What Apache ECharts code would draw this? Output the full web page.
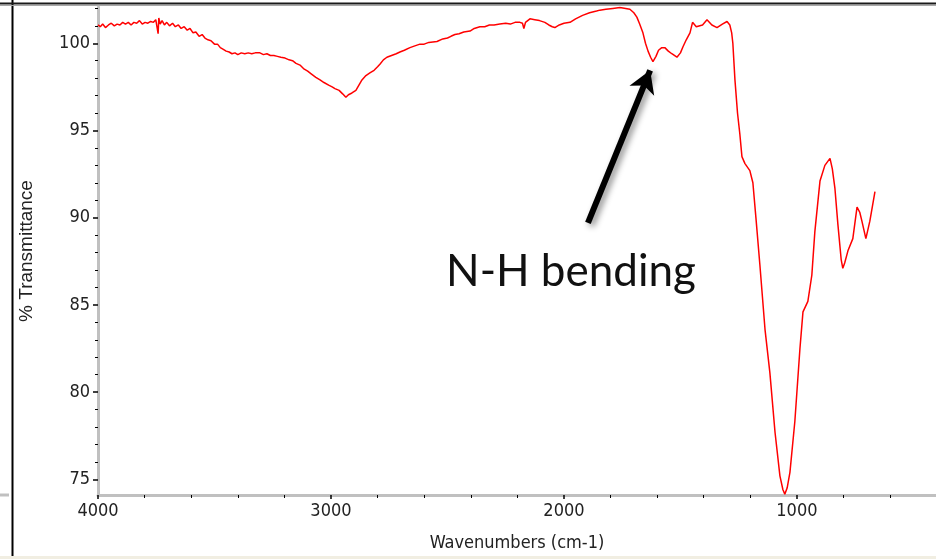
<!DOCTYPE html>
<html>
<head>
<meta charset="utf-8">
<script src="https://cdn.jsdelivr.net/npm/echarts@6/dist/echarts.min.js"></script>
<style>
  html, body { margin: 0; padding: 0; background: #fff; }
  #chart { width: 936px; height: 559px; }
</style>
</head>
<body>
<div id="chart"></div>
<script>
// IR spectrum
const wavenumbers = [
  4000, 3990, 3980, 3968, 3955, 3943, 3930, 3918, 3906, 3894, 3882, 3870, 3858, 3846, 3834, 3822,
  3810, 3798, 3786, 3774, 3762, 3752, 3745, 3742, 3739, 3733, 3725, 3715, 3705, 3693, 3680, 3668,
  3655, 3643, 3630, 3617, 3605, 3592, 3580, 3566, 3553, 3541, 3528, 3515, 3500, 3487, 3475, 3462,
  3450, 3437, 3425, 3412, 3400, 3385, 3370, 3355, 3340, 3325, 3305, 3290, 3275, 3260, 3245, 3230,
  3215, 3197, 3180, 3165, 3150, 3133, 3118, 3100, 3085, 3065, 3047, 3030, 3010, 2995, 2983, 2965,
  2950, 2936, 2925, 2910, 2893, 2880, 2867, 2850, 2833, 2815, 2800, 2790, 2775, 2760, 2740, 2720,
  2704, 2685, 2661, 2640, 2618, 2600, 2580, 2545, 2520, 2500, 2485, 2468, 2450, 2430, 2403, 2385,
  2361, 2340, 2320, 2300, 2275, 2250, 2230, 2210, 2189, 2178, 2172, 2165, 2146, 2125, 2105, 2082,
  2065, 2050, 2039, 2020, 2000, 1974, 1950, 1920, 1890, 1860, 1846, 1820, 1790, 1760, 1735, 1717,
  1700, 1687, 1675, 1661, 1650, 1639, 1628, 1618, 1605, 1594, 1580, 1567, 1552, 1537, 1515, 1500,
  1489, 1475, 1459, 1448, 1442, 1432, 1425, 1405, 1386, 1365, 1343, 1320, 1300, 1288, 1280, 1275,
  1266, 1255, 1245, 1236, 1223, 1202, 1189, 1176, 1159, 1137, 1116, 1094, 1073, 1060, 1052, 1042,
  1030, 1009, 987, 974, 953, 936, 923, 901, 880, 858, 848, 837, 824, 810, 803, 795,
  781, 760, 742, 730, 721, 704, 687, 665
];
const transmittance = [
  101.05, 100.95, 101.1, 100.9, 101.05, 101.15, 101.0, 101.1, 101.05, 101.2, 101.1, 101.2, 101.05, 101.2, 101.15, 101.3,
  101.1, 101.2, 101.15, 101.25, 101.2, 101.35, 101.3, 100.55, 101.45, 101.1, 101.3, 101.05, 101.2, 101.0, 101.15, 100.95,
  101.05, 100.85, 100.95, 100.75, 100.85, 100.6, 100.65, 100.4, 100.5, 100.3, 100.2, 100.15, 99.95, 99.95, 99.75, 99.65,
  99.55, 99.5, 99.4, 99.45, 99.35, 99.45, 99.4, 99.45, 99.4, 99.45, 99.45, 99.35, 99.4, 99.3, 99.3, 99.25,
  99.2, 99.15, 99.05, 99.0, 98.85, 98.75, 98.55, 98.4, 98.25, 98.05, 97.9, 97.75, 97.6, 97.5, 97.4, 97.3,
  97.1, 96.9, 97.05, 97.15, 97.3, 97.6, 97.9, 98.15, 98.3, 98.45, 98.65, 98.8, 99.05, 99.2, 99.3, 99.4,
  99.5, 99.6, 99.75, 99.85, 99.95, 99.95, 100.05, 100.1, 100.25, 100.3, 100.4, 100.5, 100.55, 100.65, 100.7, 100.85,
  100.95, 100.95, 101.05, 101.05, 101.1, 101.15, 101.1, 101.2, 101.2, 101.15, 100.85, 101.2, 101.4, 101.35, 101.3, 101.2,
  101.05, 100.95, 100.9, 101.05, 101.15, 101.2, 101.4, 101.6, 101.75, 101.85, 101.9, 101.95, 102.0, 102.05, 102.0, 101.95,
  101.75, 101.5, 101.1, 100.6, 100.0, 99.55, 99.2, 98.95, 99.25, 99.6, 99.75, 99.75, 99.55, 99.4, 99.2, 99.45,
  99.8, 100.2, 100.6, 101.2, 101.25, 100.95, 100.85, 101.05, 101.35, 101.05, 100.9, 101.1, 101.25, 101.05, 100.6, 100.0,
  97.9, 96.0, 94.8, 93.5, 93.1, 92.7, 92.0, 90.0, 87.3, 83.6, 81.1, 77.7, 75.2, 74.4, 74.15, 74.5,
  75.4, 78.3, 82.5, 84.6, 85.2, 86.7, 89.2, 92.1, 93.0, 93.4, 92.8, 91.7, 89.6, 87.6, 87.1, 87.4,
  88.1, 88.8, 90.6, 90.3, 89.8, 88.8, 89.8, 91.5
];

const xMajorTicks = [1000, 2000, 3000, 4000];
const xMinorTicks = [600, 800, 1200, 1400, 1600, 1800, 2200, 2400, 2600, 2800, 3200, 3400, 3600, 3800];
const yMajorTicks = [75, 80, 85, 90, 95, 100];
const yMinorTicks = [76, 77, 78, 79, 81, 82, 83, 84, 86, 87, 88, 89, 91, 92, 93, 94, 96, 97, 98, 99, 101, 102];

// annotation arrow (tail -> head), in data units
const arrowFrom = [1897, 89.7];
const arrowTo = [1630, 98.45];

const narrow = "'Liberation Sans Narrow', 'Arial Narrow', 'DejaVu Sans Condensed', sans-serif";
const X_MIN = 403, X_MAX = 4000, Y_MIN = 74.1, Y_MAX = 102.08;

const chart = echarts.init(document.getElementById("chart"));

const option = {
  backgroundColor: "#fff",
  animation: false,
  grid: { left: 98, right: 0, top: 7, bottom: 64 },
  xAxis: [
    {
      type: "value",
      position: "bottom",
      inverse: true,
      min: X_MIN,
      max: X_MAX,
      name: "Wavenumbers (cm-1)",
      nameLocation: "middle",
      nameGap: 39,
      nameTextStyle: { color: "#222", fontSize: 18, fontFamily: narrow },
      axisLine: { lineStyle: { color: "#c0c0c0", width: 3 } },
      axisTick: { customValues: xMajorTicks, length: 4, lineStyle: { color: "#000", width: 1.5 } },
      axisLabel: {
        customValues: xMajorTicks,
        formatter: (v) => String(v),
        color: "#222",
        fontSize: 18,
        fontFamily: narrow,
        margin: 7,
      },
      splitLine: { show: false },
    },
    {
      type: "value",
      position: "bottom",
      inverse: true,
      min: X_MIN,
      max: X_MAX,
      axisLine: { show: false },
      axisTick: { customValues: xMinorTicks, length: 3, lineStyle: { color: "#000", width: 1 } },
      axisLabel: { show: false },
      splitLine: { show: false },
    },
  ],
  yAxis: [
    {
      type: "value",
      position: "left",
      min: Y_MIN,
      max: Y_MAX,
      name: "% Transmittance",
      nameLocation: "middle",
      nameGap: 62,
      nameTextStyle: { color: "#222", fontSize: 19, fontFamily: "'Liberation Sans', Arial, sans-serif" },
      axisLine: { lineStyle: { color: "#c0c0c0", width: 3 } },
      axisTick: { customValues: yMajorTicks, length: 5, lineStyle: { color: "#000", width: 1.5 } },
      axisLabel: {
        customValues: yMajorTicks,
        formatter: (v) => String(v),
        color: "#222",
        fontSize: 18,
        fontFamily: narrow,
        margin: 8,
      },
      splitLine: { show: false },
    },
    {
      type: "value",
      position: "left",
      min: Y_MIN,
      max: Y_MAX,
      axisLine: { show: false },
      axisTick: { customValues: yMinorTicks, length: 3, lineStyle: { color: "#000", width: 1 } },
      axisLabel: { show: false },
      splitLine: { show: false },
    },
  ],
  series: [
    {
      type: "line",
      xAxisIndex: 0,
      yAxisIndex: 0,
      data: wavenumbers.map((w, i) => [w, transmittance[i]]),
      showSymbol: false,
      silent: true,
      lineStyle: { color: "#ff0000", width: 1.5 },
      markLine: {
        silent: true,
        symbol: ["none", "arrow"],
        symbolSize: [20, 22],
        label: { show: false },
        lineStyle: {
          color: "#000",
          width: 6,
          type: "solid",
          shadowBlur: 6,
          shadowColor: "rgba(0,0,0,0.45)",
          shadowOffsetX: 3,
          shadowOffsetY: 3,
        },
        itemStyle: { color: "#000" },
        data: [[{ coord: arrowFrom }, { coord: arrowTo }]],
      },
    },
  ],
  graphic: [
    { type: "rect", shape: { x: 0, y: 556, width: 936, height: 3 }, style: { fill: "#f1eee2" }, silent: true },
    { type: "line", shape: { x1: 12.5, y1: 0, x2: 12.5, y2: 556 }, style: { stroke: "#000", lineWidth: 2 }, silent: true },
    { type: "line", shape: { x1: 0, y1: 3.5, x2: 936, y2: 3.5 }, style: { stroke: "#1a1a1a", lineWidth: 2 }, silent: true },
    { type: "line", shape: { x1: 0, y1: 5.5, x2: 936, y2: 5.5 }, style: { stroke: "#a8a8a8", lineWidth: 1 }, silent: true },
    { type: "line", shape: { x1: 0, y1: 495, x2: 9, y2: 495 }, style: { stroke: "#c0c0c0", lineWidth: 3 }, silent: true },
    {
      type: "text",
      x: 571,
      y: 272,
      silent: true,
      style: {
        text: "N-H bending",
        fill: "#111",
        font: "44px Lato, 'Open Sans', sans-serif",
        align: "center",
        verticalAlign: "middle",
      },
    },
  ],
};

chart.setOption(option);
window.onresize = () => {
  chart.resize();
};
</script>
</body>
</html>
